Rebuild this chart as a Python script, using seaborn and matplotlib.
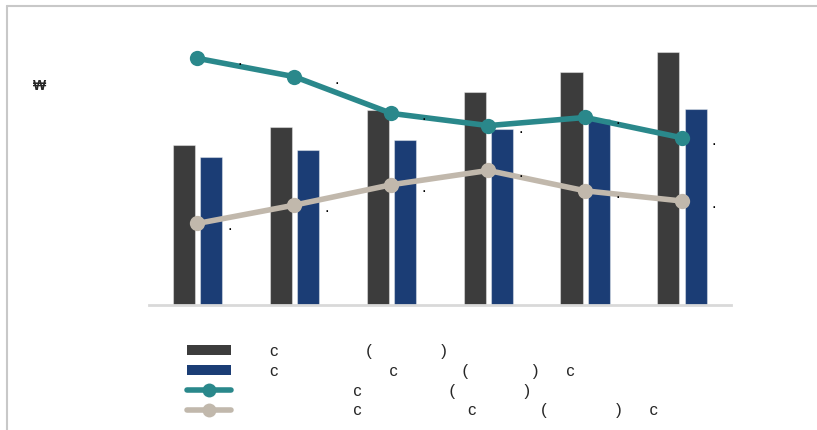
import numpy as np
import pandas as pd
import seaborn as sns
import matplotlib.pyplot as plt
from matplotlib.lines import Line2D
from matplotlib.patches import Patch

# ---- data ----
categories = ["1", "2", "3", "4", "5", "6"]
bar_series = ["c" + " " * 19 + "(" + " " * 15 + ")",
              "c" + " " * 24 + "c" + " " * 14 + "(" + " " * 14 + ")" + " " * 6 + "c"]
line_series = [" " * 18 + "c" + " " * 19 + "(" + " " * 15 + ")",
               " " * 18 + "c" + " " * 23 + "c" + " " * 14 + "(" + " " * 15 + ")" + " " * 6 + "c"]
bar_dark = [845, 940, 1030, 1125, 1230, 1335]
bar_blue = [780, 820, 870, 930, 985, 1035]
line_teal = [12.1, 11.2, 9.4, 8.8, 9.2, 8.2]
line_gray = [4.0, 4.9, 5.9, 6.6, 5.6, 5.1]
y_unit = "\u20a9"

C_DARK = "#3c3c3c"
C_BLUE = "#1b3d75"
C_TEAL = "#2a888b"
C_GRAY = "#c1b8ac"

sns.set_theme(style="white")
plt.rcParams["font.family"] = ["Liberation Sans", "DejaVu Sans"]

W, H = 817, 430
fig = plt.figure(figsize=(W / 100, H / 100), dpi=100)
left, right, bottom, top = 149, 730.7, 305, 40
ax = fig.add_axes([left / W, 1 - bottom / H, (right - left) / W, (bottom - top) / H])

df = pd.DataFrame({
    "category": categories * 2,
    "series": [bar_series[0]] * len(categories) + [bar_series[1]] * len(categories),
    "value": bar_dark + bar_blue,
})
sns.barplot(data=df, x="category", y="value", hue="series",
            palette=[C_DARK, C_BLUE], saturation=1, width=0.568, gap=0.2,
            edgecolor=(1, 1, 1, 0.4), linewidth=0.8, ax=ax, legend=False)
ax.set_xlim(-0.5, 5.5)
ax.set_ylim(0, 1400)
for s in ["left", "right", "top"]:
    ax.spines[s].set_visible(False)
ax.spines["bottom"].set_color("#d9d9d9")
ax.spines["bottom"].set_linewidth(2)
ax.set_xticks([])
ax.set_yticks([])
ax.set_xlabel("")
ax.set_ylabel("")

ax2 = ax.twinx()
xs = np.arange(len(categories))
for vals, col in [(line_teal, C_TEAL), (line_gray, C_GRAY)]:
    sns.lineplot(x=xs, y=vals, ax=ax2, color=col, linewidth=4, marker="o",
                 markersize=11, markeredgewidth=0, solid_capstyle="round")
    for i, v in enumerate(vals):
        dx = 42 if v >= 10 else 32
        ax2.annotate(".", xy=(i, v), xytext=(dx, -7), textcoords="offset pixels",
                     ha="center", va="baseline", fontsize=12, color="black")
ax2.set_ylim(0, 13)
ax2.set_xlim(-0.5, 5.5)
for s in ax2.spines.values():
    s.set_visible(False)
ax2.set_yticks([])
ax2.set_ylabel("")

fig.text(33 / W, 1 - 86 / H, y_unit, fontsize=10, fontweight="bold",
         ha="left", va="center")

# border
fig.add_artist(Line2D([7 / W, 7 / W], [0, 1 - 6 / H], transform=fig.transFigure,
                      color="#c8c8c8", lw=1.5))
fig.add_artist(Line2D([7 / W, 1], [1 - 6 / H, 1 - 6 / H], transform=fig.transFigure,
                      color="#c8c8c8", lw=1.5))

handles = [
    Patch(facecolor=C_DARK, edgecolor="none"),
    Patch(facecolor=C_BLUE, edgecolor="none"),
    Line2D([], [], color=C_TEAL, lw=4, marker="o", markersize=10,
           markeredgewidth=0, solid_capstyle="round"),
    Line2D([], [], color=C_GRAY, lw=4, marker="o", markersize=10,
           markeredgewidth=0, solid_capstyle="round"),
]
fs = 12
em = fs * 100 / 72
fig.legend(handles, bar_series + line_series, loc="upper left",
           bbox_to_anchor=(187 / W, 1 - 344 / H), frameon=False, fontsize=fs,
           handlelength=44 / em, handleheight=0.6, handletextpad=(270 - 231) / em,
           labelspacing=0.29, borderpad=0, borderaxespad=0)

fig.savefig("out.png", dpi=100)
